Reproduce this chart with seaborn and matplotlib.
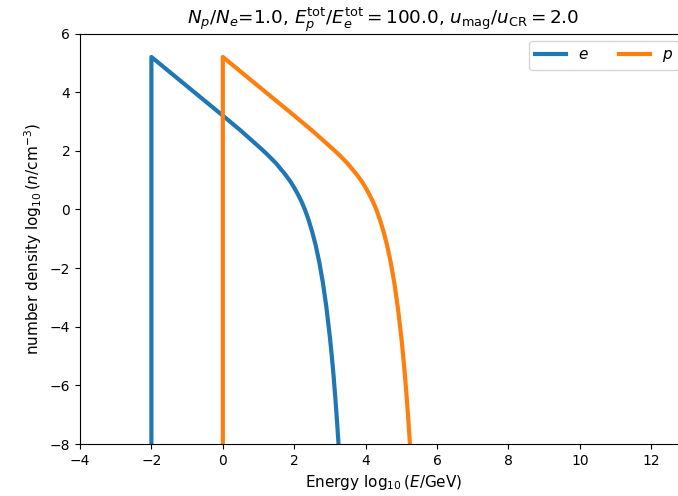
import matplotlib
matplotlib.use("Agg")
import matplotlib.pyplot as plt
import seaborn as sns
import pandas as pd

# electrons: log10(E/GeV) and log10(n/cm^-3)
e_logE = [-2.0, -2.0, -1.5, -1.0, -0.5, 0.0, 0.5, 1.0, 1.25, 1.5, 1.75, 1.9, 2.0,
          2.1, 2.2, 2.3, 2.4, 2.5, 2.6, 2.7, 2.8, 2.9, 3.0, 3.05, 3.1, 3.15, 3.2, 3.25, 3.3]
e_logn = [-30.0, 5.20, 4.70, 4.20, 3.70, 3.20, 2.69, 2.15, 1.87, 1.56, 1.19, 0.94, 0.74,
          0.52, 0.28, -0.01, -0.35, -0.75, -1.22, -1.79, -2.48, -3.33, -4.37, -4.98, -5.65,
          -6.41, -7.25, -8.18, -9.22]

# protons
p_logE = [0.0, 0.0, 0.5, 1.0, 1.5, 2.0, 2.5, 3.0, 3.25, 3.5, 3.75, 3.9, 4.0,
          4.1, 4.2, 4.3, 4.4, 4.5, 4.6, 4.7, 4.8, 4.9, 5.0, 5.05, 5.1, 5.15, 5.2, 5.25, 5.3]
p_logn = [-30.0, 5.20, 4.70, 4.20, 3.70, 3.20, 2.69, 2.15, 1.87, 1.56, 1.19, 0.94, 0.74,
          0.52, 0.28, -0.01, -0.35, -0.75, -1.22, -1.79, -2.48, -3.33, -4.37, -4.98, -5.65,
          -6.41, -7.25, -8.18, -9.22]

species = ["$e$", "$p$"]
colors = ["#1f77b4", "#ff7f0e"]

title = r"$N_p/N_e$=1.0, $E_p^{\rm tot}/E_e^{\rm tot}=100.0$, $u_{\rm mag}/u_{\rm CR}=2.0$"
xlabel = r"Energy $\log_{10}(E/{\rm GeV})$"
ylabel = r"number density $\log_{10}(n/{\rm cm}^{-3})$"

df = pd.concat([
    pd.DataFrame({"x": e_logE, "y": e_logn, "s": species[0]}),
    pd.DataFrame({"x": p_logE, "y": p_logn, "s": species[1]}),
], ignore_index=True)

fig = plt.figure(figsize=(6.78, 4.96), dpi=100)
ax = fig.add_axes([80 / 678, 52 / 496, 607 / 678, 410.5 / 496])

sns.lineplot(data=df, x="x", y="y", hue="s", palette=colors, estimator=None,
             sort=False, linewidth=3.0, legend=False, ax=ax)

ax.set_xlim(-4, 13)
ax.set_ylim(-8, 6)
ax.set_xticks(range(-4, 13, 2))
ax.set_title(title, fontsize=13.2)
ax.set_xlabel(xlabel, fontsize=11)
ax.set_ylabel(ylabel, fontsize=11)

handles = ax.lines[:2]
ax.legend(handles, species, ncol=2, loc="upper right", fontsize=11)

fig.savefig("out.png", dpi=100)
